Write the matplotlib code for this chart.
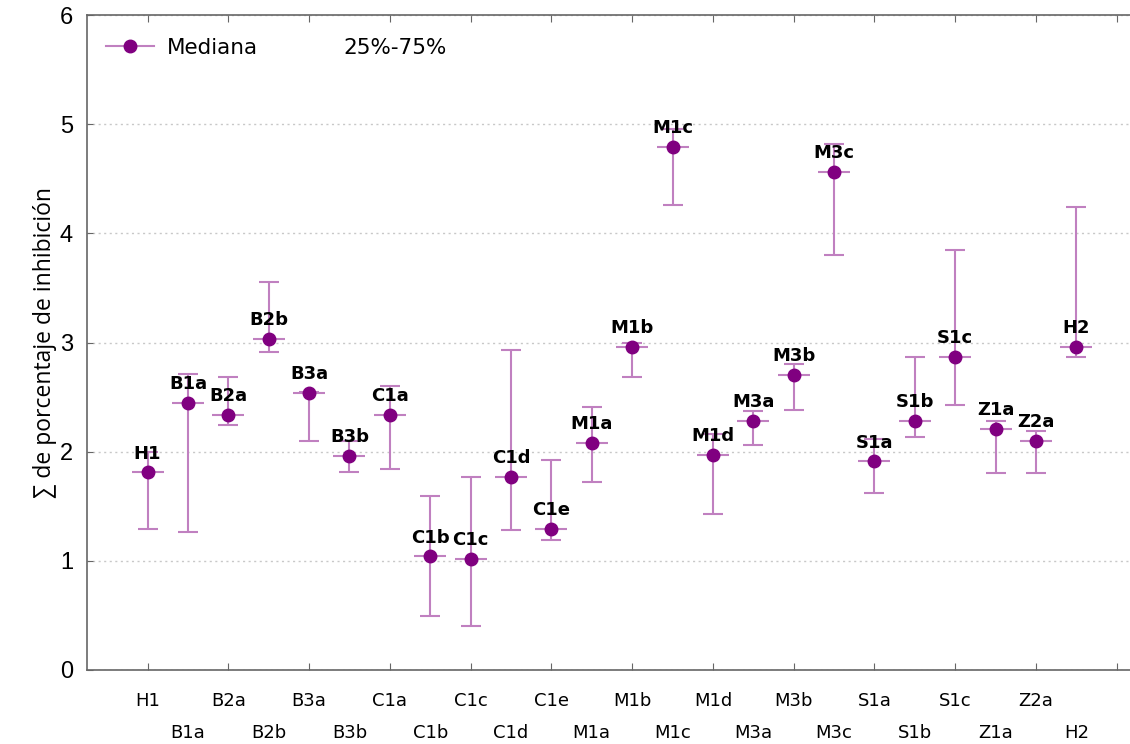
import matplotlib
matplotlib.use("Agg")
import matplotlib.pyplot as plt
import numpy as np

# datos: mediana y cuartiles 25% / 75%
categorias = ["H1", "B1a", "B2a", "B2b", "B3a", "B3b", "C1a", "C1b", "C1c", "C1d",
              "C1e", "M1a", "M1b", "M1c", "M1d", "M3a", "M3b", "M3c", "S1a", "S1b",
              "S1c", "Z1a", "Z2a", "H2"]
mediana = [1.81, 2.45, 2.34, 3.03, 2.54, 1.96, 2.34, 1.04, 1.02, 1.77,
           1.29, 2.08, 2.96, 4.79, 1.97, 2.28, 2.70, 4.56, 1.91, 2.28,
           2.87, 2.21, 2.10, 2.96]
q25 = [1.29, 1.26, 2.24, 2.91, 2.10, 1.81, 1.84, 0.49, 0.40, 1.28,
       1.19, 1.72, 2.68, 4.26, 1.43, 2.06, 2.38, 3.80, 1.62, 2.13,
       2.43, 1.80, 1.80, 2.87]
q75 = [2.00, 2.71, 2.68, 3.55, 2.55, 2.10, 2.60, 1.59, 1.77, 2.93,
       1.92, 2.41, 3.00, 4.96, 2.16, 2.37, 2.80, 4.82, 2.12, 2.87,
       3.85, 2.28, 2.19, 4.24]

color_punto = "#800080"
color_barra = "#c080c0"

plt.rcParams["font.family"] = ["DejaVu Sans"]

fig = plt.figure(figsize=(11.3, 7.44), dpi=100)
ax = fig.add_axes([0.077, 0.0995, 0.923, 0.8803])

x = np.arange(len(categorias))
med = np.array(mediana)
err = [med - np.array(q25), np.array(q75) - med]

# bigotes 25%-75%
ax.errorbar(x, med, yerr=err, fmt="none", ecolor=color_barra, elinewidth=1.5,
            capsize=7.5, capthick=1.5, zorder=2)
# raya horizontal de la mediana
ax.plot(x, med, linestyle="none", marker="_", markersize=23, markeredgewidth=1.5,
        color=color_barra, zorder=3)
ax.plot(x, med, linestyle="none", marker="o", markersize=9, color=color_punto, zorder=4)

for xi, yi, nombre in zip(x, mediana, categorias):
    ax.annotate(nombre, (xi, yi), xytext=(0, 10), textcoords="offset points",
                ha="center", va="baseline", fontsize=13, fontweight="bold", color="black")

ax.set_xlim(-1.5, 24.33)
ax.set_ylim(0, 6)
ax.set_yticks(range(0, 7))
ax.set_yticklabels([str(v) for v in range(0, 7)], fontfamily="Liberation Sans", fontsize=17)

ax.set_xticks(list(range(0, 25, 2)))
ax.set_xticklabels(categorias[0::2] + [""], fontsize=13)
ax.set_xticks(list(range(1, 24, 2)), minor=True)
ax.set_xticklabels(categorias[1::2], minor=True, fontsize=13)
ax.tick_params(axis="x", which="major", direction="in", length=5, pad=16,
               top=True, color="#666666")
ax.tick_params(axis="x", which="minor", length=0, pad=39)
ax.tick_params(axis="y", direction="in", length=4, pad=10, color="#666666")

for lado in ["left", "bottom", "top"]:
    ax.spines[lado].set_color("#666666")
    ax.spines[lado].set_linewidth(1.2)
ax.spines["right"].set_visible(False)

ax.yaxis.grid(True, linestyle=(0, (1.5, 2.5)), color="#c8c8c8", linewidth=1)
ax.set_axisbelow(True)

ax.set_ylabel("\u2211 de porcentaje de inhibición", fontsize=16.5,
              fontfamily=["Open Sans", "DejaVu Sans"], labelpad=2)

linea, = ax.plot([], [], color=color_barra, marker="o", markersize=9,
                 markerfacecolor=color_punto, markeredgecolor=color_punto, linewidth=1.5)
ax.legend([linea], ["Mediana"], loc="upper left", frameon=False, fontsize=15.5,
          handlelength=2.2, handletextpad=0.6, borderaxespad=0.5,
          bbox_to_anchor=(0.0, 0.995))
ax.text(0.246, 0.95, "25%-75%", transform=ax.transAxes, fontsize=15.5,
        ha="left", va="center")

fig.savefig("out.png", dpi=100)
